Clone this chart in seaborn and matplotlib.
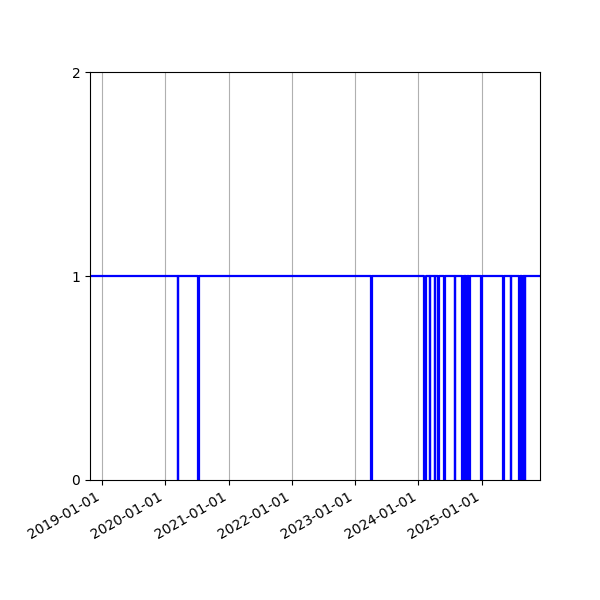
import numpy as np
import pandas as pd
import matplotlib
matplotlib.use("Agg")
import matplotlib.pyplot as plt
import matplotlib.dates as mdates
import seaborn as sns

# status series: 1 = up, 0 = down between outage start/end
first_day = "2018-10-24"
last_day = "2025-12-02"
outage_start = ["2020-03-12", "2020-07-09", "2023-04-02",
                "2024-02-04", "2024-03-06", "2024-04-03", "2024-04-24",
                "2024-05-27", "2024-07-28", "2024-09-08", "2024-09-15",
                "2024-09-23", "2024-10-01", "2024-10-19", "2024-12-27",
                "2025-05-02", "2025-06-16", "2025-08-03", "2025-08-12",
                "2025-08-20", "2025-09-04"]
outage_end = ["2020-03-15", "2020-07-12", "2023-04-07",
              "2024-02-13", "2024-03-09", "2024-04-06", "2024-04-27",
              "2024-06-01", "2024-07-31", "2024-09-13", "2024-09-20",
              "2024-09-28", "2024-10-06", "2024-10-22", "2024-12-30",
              "2025-05-07", "2025-06-19", "2025-08-07", "2025-08-17",
              "2025-08-28", "2025-09-08"]

dates = [first_day]
values = [1]
for s, e in zip(outage_start, outage_end):
    dates += [s, e]
    values += [0, 1]
dates.append(last_day)
values.append(1)

df = pd.DataFrame({"date": pd.to_datetime(dates), "status": values})

fig, ax = plt.subplots(figsize=(6, 6), dpi=100)
sns.lineplot(data=df, x="date", y="status", ax=ax, color="blue",
             linewidth=1.6, drawstyle="steps-post", estimator=None)

ax.set_xlim(df["date"].min(), df["date"].max())
ax.set_ylim(0, 2)
ax.set_yticks([0, 1, 2])
ax.set_xlabel("")
ax.set_ylabel("")
ax.xaxis.set_major_locator(mdates.YearLocator())
ax.xaxis.set_major_formatter(mdates.DateFormatter("%Y-%m-%d"))
ax.grid(axis="x")
fig.autofmt_xdate()
fig.subplots_adjust(left=0.15)

plt.savefig("out.png")
